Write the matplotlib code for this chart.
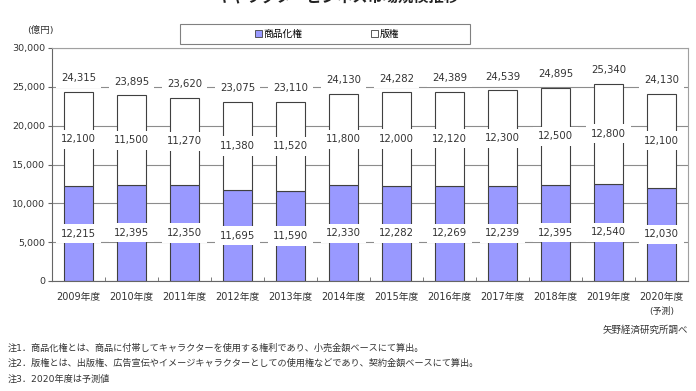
import matplotlib
matplotlib.use('Agg')
import matplotlib.pyplot as plt
import matplotlib.transforms as mtransforms
from matplotlib.patches import Rectangle, Patch

plt.rcParams['font.family'] = ['DejaVu Sans', 'Noto Sans CJK JP']

years = ['2009年度', '2010年度', '2011年度', '2012年度', '2013年度', '2014年度',
         '2015年度', '2016年度', '2017年度', '2018年度', '2019年度', '2020年度']
shohinka = [12215, 12395, 12350, 11695, 11590, 12330, 12282, 12269, 12239, 12395, 12540, 12030]
hanken = [12100, 11500, 11270, 11380, 11520, 11800, 12000, 12120, 12300, 12500, 12800, 12100]
totals = [a + b for a, b in zip(shohinka, hanken)]

notes = ['注1．商品化権とは、商品に付帯してキャラクターを使用する権利であり、小売金額ベースにて算出。',
         '注2．版権とは、出版権、広告宣伝やイメージキャラクターとしての使用権などであり、契約金額ベースにて算出。',
         '注3．2020年度は予測値']

purple = '#9999ff'
edge = '#404040'

fig = plt.figure(figsize=(6.96, 3.91), dpi=100)
ax = fig.add_axes([52 / 696, 1 - 281 / 391, (688 - 52) / 696, (281 - 48) / 391])

x = list(range(len(years)))
w = 0.53
ax.bar(x, shohinka, width=w, color=purple, edgecolor=edge, linewidth=0.8, zorder=2)
ax.bar(x, hanken, width=w, bottom=shohinka, color='white', edgecolor=edge, linewidth=0.8, zorder=2)

box = dict(boxstyle='square,pad=0.45', facecolor='white', edgecolor='none')
for i in x:
    ax.text(i, shohinka[i] / 2, f'{shohinka[i]:,}', ha='center', va='center',
            fontsize=7.3, color='#333333', bbox=box, zorder=3)
    ax.text(i, shohinka[i] + hanken[i] / 2, f'{hanken[i]:,}', ha='center', va='center',
            fontsize=7.3, color='#333333', bbox=box, zorder=3)
    ax.annotate(f'{totals[i]:,}', (i, totals[i]), xytext=(0, 10), textcoords='offset points',
                ha='center', va='center', fontsize=7.3, color='#333333', bbox=box, zorder=3)

ax.set_xlim(-0.5, len(years) - 0.5)
ax.set_ylim(0, 30000)
ax.set_yticks(range(0, 30001, 5000))
ax.set_yticklabels([f'{v:,}' for v in range(0, 30001, 5000)], fontsize=6.8, color='#333333')
ax.set_xticks(x)
ax.set_xticklabels(years, fontsize=7, color='#333333')
ax.set_xticks([i + 0.5 for i in x[:-1]], minor=True)
ax.tick_params(axis='x', which='major', length=0, pad=8)
ax.tick_params(axis='x', which='minor', length=3, direction='in', color='#666666')
ax.tick_params(axis='y', length=3, direction='out', color='#666666', pad=2)
ax.grid(axis='y', color='#8c8c8c', linewidth=0.8, zorder=0)
for s in ['top', 'right']:
    ax.spines[s].set_color('#a0a0a0')
for s in ['left', 'bottom']:
    ax.spines[s].set_color('#666666')
for s in ax.spines.values():
    s.set_linewidth(0.8)

trans = mtransforms.blended_transform_factory(ax.transData, fig.transFigure)
ax.text(11, 1 - 311 / 391, '(予測)', transform=trans, ha='center', va='center',
        fontsize=6.5, color='#333333')

# title (mostly cut off at the top)
fig.text(0.485, 1 - 1.5 / 391, 'キャラクタービジネス市場規模推移', ha='center', va='baseline',
         fontsize=11, fontweight='bold', color='#222222')

fig.text(40 / 696, 1 - 30 / 391, '(億円)', ha='center', va='center', fontsize=6.8, color='#333333')

# legend frame
fig.patches.append(Rectangle((180 / 696, 1 - 44 / 391), 290 / 696, 20 / 391,
                             transform=fig.transFigure, facecolor='white',
                             edgecolor='#808080', linewidth=0.8))
handles = [Patch(facecolor=purple, edgecolor=edge, linewidth=0.6, label='商品化権'),
           Patch(facecolor='white', edgecolor=edge, linewidth=0.6, label='版権')]
fig.legend(handles=handles, loc='center', bbox_to_anchor=(327 / 696, 1 - 34 / 391), ncol=2,
           frameon=False, fontsize=7, handlelength=0.7, handleheight=0.7, handletextpad=0.2,
           columnspacing=7)

fig.text(688 / 696, 1 - 330 / 391, '矢野経済研究所調べ', ha='right', va='center',
         fontsize=6.8, color='#333333')
for k, note in enumerate(notes):
    fig.text(8 / 696, 1 - (348 + 15.5 * k) / 391, note, ha='left', va='center',
             fontsize=6.6, color='#333333')

fig.savefig('out.png', dpi=100)
